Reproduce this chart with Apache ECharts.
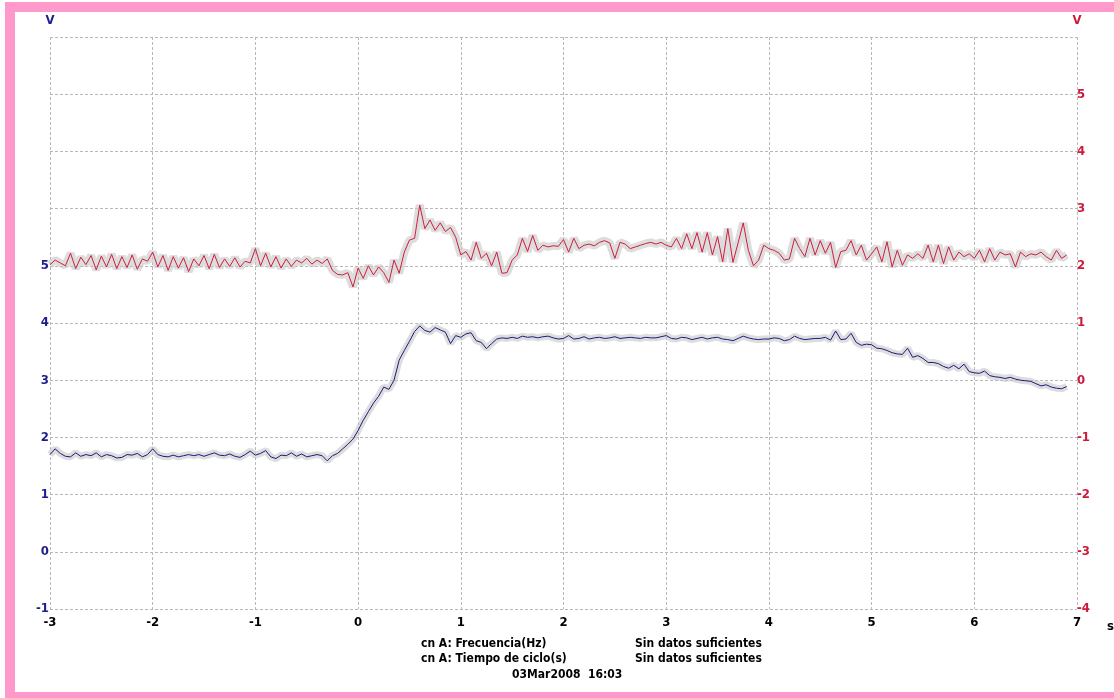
<!DOCTYPE html>
<html>
<head>
<meta charset="utf-8">
<script src="https://cdn.jsdelivr.net/npm/echarts@6/dist/echarts.min.js"></script>
<style>
    html, body { margin: 0; padding: 0; width: 1114px; height: 698px; overflow: hidden; background: #fff; }
    .frame { position: absolute; left: 5px; top: 2px; width: 1130px; height: 680px; border: 10px solid #ff99cc; }
    #main { position: absolute; left: 0; top: 0; width: 1114px; height: 698px; }
</style>
</head>
<body>
<div class="frame"></div>
<div id="main"></div>
<script>
// muestreo: cada 0.05 s desde -3 s
var t0 = -3;
var dt = 0.05;

// canal rojo (eje derecho)
var redVals = [
    2.02, 2.10, 2.05, 2.00, 2.22, 1.95, 2.15, 2.02, 2.18, 1.93, 2.17, 1.98, 2.20, 1.95, 2.16, 1.97, 2.19, 1.94, 2.12, 2.08,
    2.24, 1.98, 2.18, 1.92, 2.16, 1.96, 2.14, 1.90, 2.12, 2.00, 2.18, 1.95, 2.20, 1.97, 2.12, 1.99, 2.14, 1.98, 2.08, 2.05,
    2.30, 2.00, 2.22, 1.98, 2.16, 1.96, 2.12, 1.99, 2.10, 2.05, 2.13, 2.03, 2.10, 2.04, 2.12, 1.92, 1.85, 1.84, 1.88, 1.63,
    1.96, 1.78, 2.00, 1.84, 1.98, 1.88, 1.71, 2.10, 1.87, 2.24, 2.45, 2.48, 3.06, 2.65, 2.80, 2.62, 2.75, 2.60, 2.67, 2.50,
    2.19, 2.25, 2.10, 2.41, 2.13, 2.22, 2.00, 2.24, 1.87, 1.88, 2.10, 2.19, 2.48, 2.25, 2.53, 2.27, 2.36, 2.33, 2.35, 2.34,
    2.46, 2.24, 2.48, 2.30, 2.36, 2.38, 2.35, 2.41, 2.44, 2.40, 2.13, 2.41, 2.38, 2.30, 2.33, 2.36, 2.39, 2.41, 2.38, 2.41,
    2.36, 2.33, 2.48, 2.30, 2.56, 2.30, 2.58, 2.24, 2.58, 2.19, 2.51, 2.07, 2.65, 2.06, 2.40, 2.75, 2.27, 2.00, 2.10, 2.36,
    2.30, 2.27, 2.22, 2.10, 2.12, 2.48, 2.30, 2.16, 2.48, 2.19, 2.44, 2.22, 2.41, 1.97, 2.25, 2.27, 2.44, 2.19, 2.36, 2.10,
    2.21, 2.33, 2.07, 2.42, 1.98, 2.27, 2.01, 2.19, 2.13, 2.21, 2.13, 2.36, 2.07, 2.36, 2.04, 2.33, 2.10, 2.24, 2.16, 2.21,
    2.13, 2.27, 2.07, 2.30, 2.10, 2.24, 2.19, 2.21, 1.98, 2.24, 2.16, 2.21, 2.19, 2.24, 2.16, 2.10, 2.27, 2.13, 2.19
];

// canal azul (eje izquierdo)
var blueVals = [
    1.70, 1.80, 1.72, 1.67, 1.66, 1.73, 1.67, 1.70, 1.68, 1.73, 1.66, 1.70, 1.68, 1.64, 1.65, 1.70, 1.69, 1.72, 1.66, 1.70,
    1.80, 1.70, 1.67, 1.66, 1.69, 1.66, 1.68, 1.70, 1.68, 1.70, 1.67, 1.70, 1.73, 1.69, 1.68, 1.71, 1.67, 1.65, 1.70, 1.76,
    1.69, 1.72, 1.77, 1.66, 1.63, 1.69, 1.68, 1.73, 1.67, 1.71, 1.66, 1.68, 1.70, 1.68, 1.59, 1.68, 1.72, 1.80, 1.88, 1.97,
    2.12, 2.30, 2.45, 2.60, 2.72, 2.88, 2.84, 3.00, 3.35, 3.52, 3.68, 3.85, 3.95, 3.87, 3.84, 3.92, 3.88, 3.84, 3.64, 3.78,
    3.75, 3.81, 3.83, 3.69, 3.66, 3.55, 3.64, 3.72, 3.74, 3.73, 3.75, 3.73, 3.77, 3.75, 3.76, 3.74, 3.76, 3.77, 3.74, 3.72,
    3.73, 3.78, 3.72, 3.73, 3.76, 3.72, 3.74, 3.75, 3.73, 3.74, 3.76, 3.73, 3.74, 3.75, 3.74, 3.73, 3.75, 3.74, 3.74, 3.76,
    3.78, 3.73, 3.72, 3.75, 3.74, 3.71, 3.73, 3.75, 3.72, 3.74, 3.75, 3.72, 3.71, 3.69, 3.73, 3.77, 3.74, 3.72, 3.71, 3.72,
    3.72, 3.74, 3.73, 3.69, 3.71, 3.77, 3.73, 3.71, 3.72, 3.73, 3.73, 3.75, 3.70, 3.86, 3.71, 3.72, 3.82, 3.66, 3.61, 3.63,
    3.62, 3.56, 3.55, 3.52, 3.48, 3.46, 3.45, 3.56, 3.40, 3.43, 3.38, 3.31, 3.31, 3.29, 3.24, 3.21, 3.26, 3.20, 3.28, 3.15,
    3.13, 3.12, 3.16, 3.08, 3.06, 3.05, 3.03, 3.05, 3.02, 3.00, 2.99, 2.98, 2.94, 2.90, 2.92, 2.88, 2.86, 2.85, 2.89
];

// textos de pie
var infoLabels = ['cn A: Frecuencia(Hz)', 'cn A: Tiempo de ciclo(s)'];
var infoValues = ['Sin datos suficientes', 'Sin datos suficientes'];
var stamp = '03Mar2008  16:03';

var FONT = '"Liberation Sans Narrow", "DejaVu Sans Condensed", sans-serif';
var GRIDC = '#b8b8b8';

function toPoints(vals) {
    var pts = [];
    for (var i = 0; i < vals.length; i++) {
        pts.push([Math.round((t0 + i * dt) * 100) / 100, vals[i]]);
    }
    return pts;
}

function init() {
    var chart = echarts.init(document.getElementById('main'));
    var redPts = toPoints(redVals);
    var bluePts = toPoints(blueVals);

    var graphic = [];
    var i;
    for (i = 0; i < infoLabels.length; i++) {
        graphic.push({
            type: 'text', left: 421, top: 638 + i * 15,
            style: {text: infoLabels[i], font: 'bold 12px ' + FONT, fill: '#000'}
        });
        graphic.push({
            type: 'text', left: 635, top: 638 + i * 15,
            style: {text: infoValues[i], font: 'bold 12px ' + FONT, fill: '#000'}
        });
    }
    graphic.push({
        type: 'text', left: 512, top: 669,
        style: {text: stamp, font: 'bold 12px ' + FONT, fill: '#000'}
    });
    graphic.push({
        type: 'text', left: 1107, top: 620,
        style: {text: 's', font: 'bold 13px ' + FONT, fill: '#000'}
    });

    var splitLine = {show: true, lineStyle: {color: GRIDC, type: [3, 2], width: 1}};

    var option = {
        animation: false,
        backgroundColor: 'transparent',
        grid: {left: 50, right: 37, top: 37, bottom: 89},
        graphic: graphic,
        xAxis: {
            type: 'value', min: -3, max: 7, interval: 1,
            axisLine: {show: false, onZero: false}, axisTick: {show: false},
            splitLine: splitLine,
            axisLabel: {color: '#000', fontFamily: FONT, fontWeight: 'bold', fontSize: 13, margin: 7}
        },
        yAxis: [{
            type: 'value', min: -1, max: 9, interval: 1, position: 'left',
            name: 'V', nameLocation: 'end', nameGap: 10,
            nameTextStyle: {color: '#1c1c8c', fontFamily: FONT, fontWeight: 'bold', fontSize: 13, align: 'center'},
            axisLine: {show: false, onZero: false}, axisTick: {show: false},
            splitLine: splitLine,
            axisLabel: {
                color: '#1c1c8c', fontFamily: FONT, fontWeight: 'bold', fontSize: 13, margin: 1,
                formatter: function (v) { return v > 5 ? '' : String(v); }
            }
        }, {
            type: 'value', min: -4, max: 6, interval: 1, position: 'right',
            name: 'V', nameLocation: 'end', nameGap: 10,
            nameTextStyle: {color: '#cc1a3a', fontFamily: FONT, fontWeight: 'bold', fontSize: 13, align: 'center'},
            axisLine: {show: false, onZero: false}, axisTick: {show: false},
            splitLine: {show: false},
            axisLabel: {
                color: '#cc1a3a', fontFamily: FONT, fontWeight: 'bold', fontSize: 13, margin: 0,
                formatter: function (v) { return v > 5 ? '' : String(v); }
            }
        }],
        series: [{
            // nube gris de muestras
            type: 'line', yAxisIndex: 1, data: redPts, symbol: 'none', silent: true,
            lineStyle: {color: '#c6c6c6', width: 8, opacity: 0.6}
        }, {
            type: 'line', yAxisIndex: 0, data: bluePts, symbol: 'none', silent: true,
            lineStyle: {color: '#c6c6c6', width: 7, opacity: 0.6}
        }, {
            name: 'rojo', type: 'line', yAxisIndex: 1, data: redPts, symbol: 'none',
            lineStyle: {color: '#d01c3c', width: 1}
        }, {
            name: 'azul', type: 'line', yAxisIndex: 0, data: bluePts, symbol: 'none',
            lineStyle: {color: '#1a1a80', width: 1}
        }]
    };
    chart.setOption(option);
}

init();
</script>
</body>
</html>
